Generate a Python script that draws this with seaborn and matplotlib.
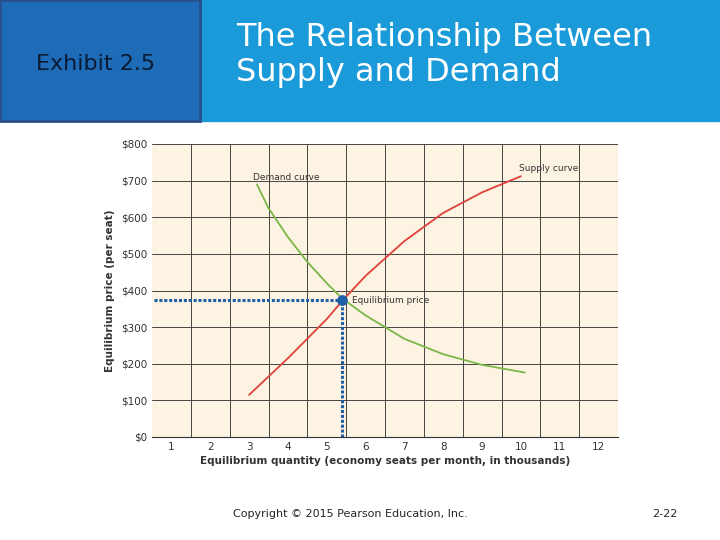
import matplotlib
matplotlib.use("Agg")
import matplotlib.pyplot as plt
import seaborn as sns
from matplotlib.patches import Rectangle

demand_q = [3.2, 3.5, 4.0, 4.5, 5.0, 5.4, 6.0, 7.0, 8.0, 9.0, 10.1]
demand_p = [690, 625, 546, 478, 420, 378, 332, 268, 226, 197, 176]
supply_q = [3.0, 4.0, 5.0, 5.4, 6.0, 7.0, 8.0, 9.0, 10.0]
supply_p = [115, 215, 322, 372, 440, 535, 612, 668, 712]
eq_q, eq_p = 5.4, 374
x_ticks = list(range(1, 13))
y_ticks = list(range(0, 801, 100))
y_labels = ["$%d" % v for v in y_ticks]

sns.set_style("white")
fig = plt.figure(figsize=(7.2, 5.4), dpi=100)

# header band
fig.patches.append(Rectangle((0, 1 - 121 / 540), 1, 121 / 540, transform=fig.transFigure,
                             color="#1a9ad9", zorder=0))
fig.patches.append(Rectangle((0, 1 - 121 / 540), 200 / 720, 121 / 540, transform=fig.transFigure,
                             facecolor="#1e6bb8", edgecolor="#2a4f8a", lw=2, zorder=1))
fig.text(96 / 720, 1 - 64 / 540, "Exhibit 2.5", color="#0b1a33", fontsize=16,
         ha="center", va="center")
fig.text(236 / 720, 1 - 55 / 540, "The Relationship Between\nSupply and Demand", color="white",
         fontsize=23, ha="left", va="center", linespacing=1.15)

ax = fig.add_axes([152 / 720, 103 / 540, 466 / 720, 293 / 540])
ax.set_facecolor("#fdf3e2")
for v in y_ticks[1:]:
    ax.axhline(v, color="#444444", lw=0.7, zorder=1)
for q in [i + 0.5 for i in range(1, 12)]:
    ax.axvline(q, color="#444444", lw=0.7, zorder=1)

sns.lineplot(x=demand_q, y=demand_p, ax=ax, color="#7ab648", lw=1.3, zorder=3)
sns.lineplot(x=supply_q, y=supply_p, ax=ax, color="#e0413a", lw=1.3, zorder=3)
ax.plot([0.55, eq_q], [eq_p, eq_p], color="#1f5fa8", lw=2.2, ls=(0, (1, 0.6)), zorder=4)
ax.plot([eq_q, eq_q], [0, eq_p], color="#1f5fa8", lw=2.2, ls=(0, (1, 0.6)), zorder=4)
ax.scatter([eq_q], [eq_p], s=45, color="#1f5fa8", zorder=5)

ax.text(3.1, 697, "Demand curve", fontsize=6.5, color="#333333", va="bottom")
ax.text(9.95, 720, "Supply curve", fontsize=6.5, color="#333333", va="bottom")
ax.text(5.65, 372, "Equilibrium price", fontsize=6.5, color="#333333", va="center")

ax.set_xlim(0.5, 12.5)
ax.set_ylim(0, 800)
ax.set_xticks(x_ticks)
ax.set_yticks(y_ticks)
ax.set_yticklabels(y_labels)
ax.tick_params(labelsize=7.5, colors="#333333", length=0)
for s in ax.spines.values():
    s.set_visible(False)
ax.spines["bottom"].set_visible(True)
ax.spines["bottom"].set_color("#333333")
ax.set_xlabel("Equilibrium quantity (economy seats per month, in thousands)",
              fontsize=7.5, fontweight="bold", color="#333333", labelpad=3)
ax.set_ylabel("Equilibrium price (per seat)", fontsize=7.5, fontweight="bold",
              color="#333333", labelpad=4)

fig.text(350 / 720, 1 - 514 / 540, "Copyright © 2015 Pearson Education, Inc.",
         fontsize=8, ha="center", va="center")
fig.text(665 / 720, 1 - 514 / 540, "2-22", fontsize=8, ha="center", va="center")

fig.savefig("out.png", dpi=100)
